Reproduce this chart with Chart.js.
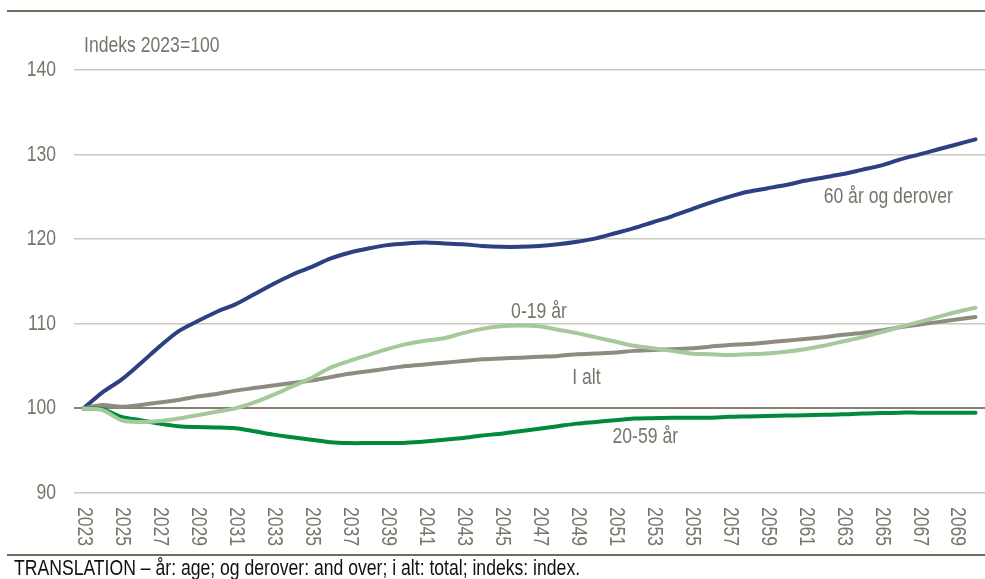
<!DOCTYPE html>
<html>
<head>
<meta charset="utf-8">
<script src="https://cdn.jsdelivr.net/npm/chart.js@4.4.1/dist/chart.umd.min.js"></script>
<style>
html, body { margin: 0; padding: 0; background: #fff; }
#wrap { position: relative; width: 985px; height: 579px; }
</style>
</head>
<body>
<div id="wrap"><canvas id="chartBefolkning" width="985" height="579"></canvas></div>
<script>
// Aldersgrupper, indeks 2023=100
var aar = [];
for (var a = 2023; a <= 2070; a++) { aar.push(String(a)); }

var alder60pluss = [100, 101.9, 103.4, 105.3, 107.3, 109.1, 110.3, 111.4, 112.3, 113.5,
  114.7, 115.8, 116.7, 117.7, 118.4, 118.9, 119.3, 119.5, 119.6, 119.5,
  119.4, 119.2, 119.1, 119.1, 119.2, 119.4, 119.7, 120.1, 120.7, 121.3,
  122.0, 122.7, 123.5, 124.3, 125.0, 125.6, 126.0, 126.4, 126.9, 127.3,
  127.7, 128.2, 128.7, 129.4, 130.0, 130.6, 131.2, 131.8];

var alder0til19 = [100, 99.8, 98.6, 98.4, 98.5, 98.8, 99.2, 99.6, 100.0, 100.7,
  101.6, 102.6, 103.6, 104.8, 105.6, 106.3, 107.0, 107.6, 108.0, 108.3,
  108.9, 109.4, 109.7, 109.8, 109.7, 109.3, 108.9, 108.4, 107.9, 107.4,
  107.1, 106.8, 106.5, 106.4, 106.3, 106.4, 106.5, 106.7, 107.0, 107.4,
  107.9, 108.4, 109.0, 109.6, 110.2, 110.8, 111.4, 111.9];

var alder20til59 = [100, 99.9, 99.0, 98.6, 98.2, 97.9, 97.8, 97.75, 97.65, 97.3,
  96.9, 96.6, 96.3, 96.0, 95.9, 95.9, 95.9, 95.95, 96.1, 96.3,
  96.5, 96.8, 97.0, 97.3, 97.6, 97.9, 98.2, 98.4, 98.6, 98.8,
  98.85, 98.9, 98.9, 98.9, 99.0, 99.05, 99.1, 99.15, 99.2, 99.25,
  99.3, 99.4, 99.45, 99.5, 99.5, 99.5, 99.5, 99.5];

var iAlt = [100, 100.4, 100.2, 100.4, 100.7, 101.0, 101.4, 101.7, 102.1, 102.4,
  102.7, 103.0, 103.3, 103.7, 104.1, 104.4, 104.7, 105.0, 105.2, 105.4,
  105.6, 105.8, 105.9, 106.0, 106.1, 106.2, 106.4, 106.5, 106.6, 106.8,
  106.9, 107.0, 107.1, 107.3, 107.5, 107.6, 107.8, 108.0, 108.2, 108.4,
  108.7, 108.9, 109.2, 109.6, 109.9, 110.2, 110.5, 110.8];

var yTicks = [90, 100, 110, 120, 130, 140];

// tekstetiketter på linjene: [tekst, år (midtpunkt), verdi]
var etiketter = [
  ['60 år og derover', 2065.4, 125.0],
  ['0-19 år', 2047.0, 111.35],
  ['I alt', 2049.5, 103.6],
  ['20-59 år', 2052.6, 96.6]
];

var FONT = '"Liberation Sans", Arial, sans-serif';
var TEKSTFARGE = '#77756a';
var SMAL = 0.8; // smal skrift: trykk teksten sammen vannrett

function smalTekst(c, txt, x, y) {
  c.save();
  c.translate(x, y);
  c.scale(SMAL, 1);
  c.fillText(txt, 0, 0);
  c.restore();
}

var tegnTekst = {
  id: 'tegnTekst',
  afterDraw: function(chart) {
    var c = chart.ctx;
    var xs = chart.scales.x;
    var ys = chart.scales.y;
    c.save();
    c.font = '22px ' + FONT;
    c.fillStyle = TEKSTFARGE;

    // y-akse
    c.textAlign = 'right';
    c.textBaseline = 'middle';
    for (var i = 0; i < yTicks.length; i++) {
      smalTekst(c, String(yTicks[i]), 56, ys.getPixelForValue(yTicks[i]));
    }

    // x-akse, hvert andre år, loddrett
    c.textAlign = 'left';
    for (var j = 0; j < aar.length; j += 2) {
      c.save();
      c.translate(xs.getPixelForValue(j) + 1, 507);
      c.rotate(Math.PI / 2);
      smalTekst(c, aar[j], 0, 0);
      c.restore();
    }

    smalTekst(c, 'Indeks 2023=100', 84, 46);

    c.textAlign = 'center';
    for (var k = 0; k < etiketter.length; k++) {
      var e = etiketter[k];
      smalTekst(c, e[0], xs.getPixelForValue(e[1] - 2023), ys.getPixelForValue(e[2]));
    }

    // linjer topp og bunn
    c.strokeStyle = '#6e6d5c';
    c.lineWidth = 2;
    c.beginPath();
    c.moveTo(7, 11); c.lineTo(985, 11);
    c.moveTo(7, 555); c.lineTo(985, 555);
    c.stroke();

    c.fillStyle = '#111';
    c.textAlign = 'left';
    smalTekst(c, 'TRANSLATION \u2013 år: age; og derover: and over; i alt: total; indeks: index.', 14, 569);
    c.restore();
  }
};

var linje = function(label, data, color) {
  return {
    label: label,
    data: data,
    borderColor: color,
    borderWidth: 4,
    pointRadius: 0,
    tension: 0.3,
    borderCapStyle: 'round',
    borderJoinStyle: 'round',
    fill: false
  };
};

new Chart(document.getElementById('chartBefolkning'), {
  type: 'line',
  data: {
    labels: aar,
    datasets: [
      linje('0-19 år', alder0til19, '#a6c99c'),
      linje('20-59 år', alder20til59, '#008a3b'),
      linje('I alt', iAlt, '#8e8b80'),
      linje('60 år og derover', alder60pluss, '#2e3f84')
    ]
  },
  options: {
    responsive: false,
    animation: false,
    layout: { padding: { left: 74, right: 0, top: 70, bottom: 86 } },
    plugins: { legend: { display: false }, tooltip: { enabled: false } },
    scales: {
      x: {
        offset: true,
        ticks: { display: false },
        grid: { display: false, drawTicks: false },
        border: { display: false }
      },
      y: {
        min: 90,
        max: 140,
        ticks: { display: false, stepSize: 10 },
        grid: {
          drawTicks: false,
          color: function(ctx) { return ctx.tick && ctx.tick.value === 100 ? '#858272' : '#cac8bd'; },
          lineWidth: function(ctx) { return ctx.tick && ctx.tick.value === 100 ? 2 : 1.5; }
        },
        border: { display: false }
      }
    }
  },
  plugins: [tegnTekst]
});
</script>
</body>
</html>
